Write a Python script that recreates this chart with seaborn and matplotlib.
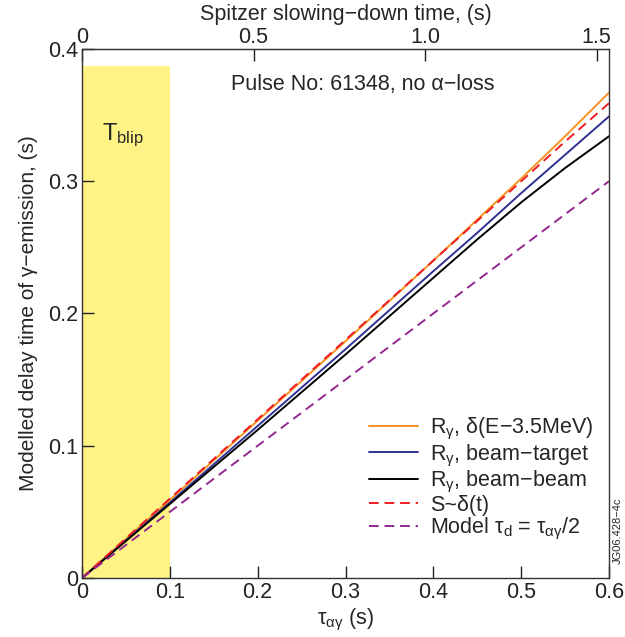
import numpy as np
import pandas as pd
import matplotlib
matplotlib.use('Agg')
import matplotlib.pyplot as plt
import seaborn as sns

# values
tau = [0.0, 0.1, 0.2, 0.3, 0.4, 0.45, 0.5, 0.55, 0.6]
r_delta = [0.0, 0.059, 0.119, 0.179, 0.240, 0.271, 0.302, 0.334, 0.367]
r_beam_target = [0.0, 0.057, 0.115, 0.173, 0.232, 0.261, 0.291, 0.320, 0.349]
r_beam_beam = [0.0, 0.056, 0.112, 0.169, 0.227, 0.256, 0.284, 0.310, 0.334]
s_delta = [0.0, 0.060, 0.120, 0.180, 0.240, 0.270, 0.300, 0.330, 0.359]
model = [0.0, 0.05, 0.10, 0.15, 0.20, 0.225, 0.25, 0.275, 0.30]

blip_end = 0.1
blip_top = 0.387
spitzer_factor = 2.56

sns.set_style('ticks')
plt.rcParams['font.family'] = ['Liberation Sans', 'DejaVu Sans']
plt.rcParams['mathtext.fontset'] = 'custom'
plt.rcParams['mathtext.rm'] = 'Liberation Sans'
plt.rcParams['mathtext.it'] = 'Liberation Sans'
plt.rcParams['mathtext.bf'] = 'Liberation Sans:bold'

fs = 15.5
fig = plt.figure(figsize=(6.25, 6.37), dpi=100)
ax = fig.add_axes([0.1312, 0.0926, 0.8432, 0.8305])

ax.fill_between([0, blip_end], 0, blip_top, color='#fff385', lw=0, zorder=0)

series = [
    (r_delta, r'R$_\gamma$, δ(E−3.5MeV)', '#f7931e', '-'),
    (r_beam_target, r'R$_\gamma$, beam−target', '#2e3192', '-'),
    (r_beam_beam, r'R$_\gamma$, beam−beam', 'black', '-'),
    (s_delta, 'S~δ(t)', '#ed1c24', (0, (5, 3))),
    (model, r'Model $\tau_{\rm d}$ = $\tau_{\alpha\gamma}$/2', '#93278f', (0, (5, 3))),
]
for vals, lab, col, ls in series:
    df = pd.DataFrame({'x': tau, 'y': vals})
    sns.lineplot(data=df, x='x', y='y', ax=ax, color=col, linestyle=ls, lw=1.4, label=lab)

ax.set_xlim(0, 0.6)
ax.set_ylim(0, 0.4)
ax.set_xticks([0, 0.1, 0.2, 0.3, 0.4, 0.5, 0.6])
ax.set_xticklabels(['0', '0.1', '0.2', '0.3', '0.4', '0.5', '0.6'])
ax.set_yticks([0, 0.1, 0.2, 0.3, 0.4])
ax.set_yticklabels(['0', '0.1', '0.2', '0.3', '0.4'])
ax.tick_params(direction='in', length=8.5, labelsize=fs, width=1, colors='#222222', pad=3)
ax.set_xlabel(r'$\tau_{\alpha\gamma}$ (s)', fontsize=fs, labelpad=3)
ax.set_ylabel('Modelled delay time of γ−emission, (s)', fontsize=15, labelpad=7)
for sp in ax.spines.values():
    sp.set_linewidth(1.0)
    sp.set_color('#333333')

top = ax.secondary_xaxis('top', functions=(lambda x: x * spitzer_factor, lambda x: x / spitzer_factor))
top.set_xticks([0, 0.5, 1.0, 1.5])
top.set_xticklabels(['0', '0.5', '1.0', '1.5'])
top.tick_params(direction='in', length=8.5, labelsize=fs, width=1, pad=1, colors='#222222')
top.set_xlabel('Spitzer slowing−down time, (s)', fontsize=fs, labelpad=5)

ax.text(0.32, 0.373, 'Pulse No: 61348, no α−loss', fontsize=fs, ha='center', va='center')
ax.text(0.047, 0.335, r'T$_{\rm blip}$', fontsize=fs + 1.5, ha='center', va='center')

leg = ax.legend(loc='lower right', bbox_to_anchor=(1.0, 0.04), frameon=False, fontsize=fs,
                handlelength=2.3, handletextpad=0.55, labelspacing=0.0, borderaxespad=0.3)

fig.text(0.996, 0.115, 'JG06.428−4c', rotation=90, fontsize=8, ha='right', va='bottom')

fig.savefig('out.png', dpi=100)
